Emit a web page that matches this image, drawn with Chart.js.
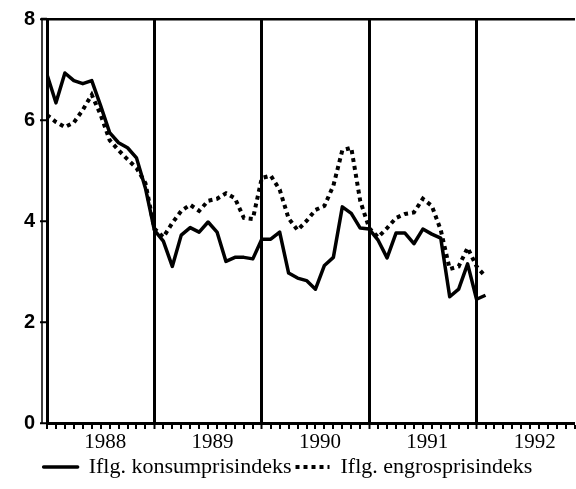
<!DOCTYPE html>
<html>
<head>
<meta charset="utf-8">
<script src="https://cdn.jsdelivr.net/npm/chart.js@4/dist/chart.umd.min.js"></script>
<style>
  html, body { margin: 0; padding: 0; background: #fff; }
  #wrap { width: 576px; height: 489px; }
</style>
</head>
<body>
<div id="wrap"><canvas id="grafico"></canvas></div>
<script>
// maanedlige tal fra jan. 1988 (index 0) til feb. 1992
const konsum = [
  6.9, 6.34, 6.93, 6.78, 6.72, 6.78, 6.28, 5.75, 5.55, 5.45, 5.25, 4.65,
  3.82, 3.6, 3.1, 3.72, 3.87, 3.78, 3.98, 3.78, 3.2, 3.28, 3.28, 3.25,
  3.64, 3.64, 3.78, 2.97, 2.87, 2.82, 2.65, 3.12, 3.28, 4.28, 4.15, 3.86,
  3.84, 3.62, 3.27, 3.76, 3.76, 3.55, 3.84, 3.74, 3.66, 2.5, 2.65, 3.15,
  2.45, 2.53
];
const engros = [
  6.1, 5.96, 5.86, 5.95, 6.2, 6.5, 6.1, 5.6, 5.4, 5.22, 5.05, 4.75,
  3.85, 3.68, 3.96, 4.2, 4.32, 4.2, 4.4, 4.44, 4.55, 4.45, 4.06, 4.04,
  4.85, 4.9, 4.62, 4.05, 3.82, 4.0, 4.22, 4.3, 4.7, 5.4, 5.45, 4.4,
  3.86, 3.68, 3.86, 4.06, 4.14, 4.17, 4.44, 4.3, 3.82, 3.05, 3.1, 3.47,
  3.1, 2.9
];
const aarstal = ['1988', '1989', '1990', '1991', '1992'];
const yTicks = [0, 2, 4, 6, 8];

const SORT = '#000';
const INGEN = 'rgba(0,0,0,0)';
const antalMdr = 59;

// tynd ekstra streg til venstre for y-aksen
const dobbeltAkse = {
  id: 'dobbeltAkse',
  afterDraw(chart) {
    const { ctx, chartArea: a } = chart;
    ctx.save();
    ctx.strokeStyle = SORT;
    ctx.lineWidth = 1.5;
    ctx.beginPath();
    ctx.moveTo(a.left - 5, a.top - 1);
    ctx.lineTo(a.left - 5, a.bottom);
    ctx.stroke();
    ctx.lineWidth = 2.5;
    ctx.beginPath();
    ctx.moveTo(a.left - 6, a.top);
    ctx.lineTo(a.left, a.top);
    ctx.stroke();
    ctx.restore();
  }
};

const tilPunkter = arr => arr.map((v, i) => ({ x: i, y: v }));

new Chart(document.getElementById('grafico'), {
  type: 'line',
  data: {
    datasets: [{
      label: 'Iflg. konsumprisindeks',
      data: tilPunkter(konsum),
      borderColor: SORT,
      backgroundColor: INGEN,
      borderWidth: 3.5,
      borderJoinStyle: 'round',
      pointRadius: 0,
      tension: 0
    }, {
      label: 'Iflg. engrosprisindeks',
      data: tilPunkter(engros),
      borderColor: SORT,
      backgroundColor: INGEN,
      borderWidth: 4,
      borderDash: [4, 4],
      pointRadius: 0,
      tension: 0
    }]
  },
  options: {
    responsive: true,
    maintainAspectRatio: false,
    animation: false,
    layout: { padding: { top: 19, left: 0, right: 0, bottom: 1 } },
    plugins: {
      tooltip: { enabled: false },
      legend: {
        position: 'bottom',
        labels: {
          // flad boks = kort streg; bredde 34 giver rene prikker
          boxWidth: 34,
          boxHeight: 0,
          padding: 4,
          color: SORT,
          font: { family: 'Liberation Serif', size: 22 }
        }
      }
    },
    scales: {
      x: {
        type: 'linear',
        min: 0,
        max: antalMdr,
        afterBuildTicks: s => {
          const t = [];
          for (let m = 0; m <= antalMdr; m++) t.push({ value: m });
          aarstal.forEach((a, i) => t.push({ value: 6.5 + 12 * i }));
          t.sort((p, q) => p.value - q.value);
          s.ticks = t;
        },
        afterFit: s => { s.height = 29; },
        ticks: {
          autoSkip: false,
          maxRotation: 0,
          minRotation: 0,
          padding: 1,
          color: SORT,
          font: { family: 'Liberation Serif', size: 21 },
          callback: v => Number.isInteger(v) ? '' : aarstal[(v - 6.5) / 12]
        },
        grid: {
          color: c => (c.tick && c.tick.value % 12 === 0 && c.tick.value > 0) ? SORT : INGEN,
          lineWidth: c => (c.tick && c.tick.value % 12 === 0 && c.tick.value > 0) ? 3 : 0,
          tickColor: c => (c.tick && Number.isInteger(c.tick.value)) ? SORT : INGEN,
          tickLength: 6,
          tickWidth: 2
        },
        border: { color: SORT, width: 3 }
      },
      y: {
        min: 0,
        max: 8,
        afterBuildTicks: s => { s.ticks = yTicks.map(v => ({ value: v })); },
        afterFit: s => { s.width = 47; },
        ticks: {
          padding: 5,
          color: SORT,
          font: { family: 'Liberation Sans', weight: 'bold', size: 20 }
        },
        grid: {
          color: c => (c.tick && c.tick.value === 8) ? SORT : INGEN,
          lineWidth: 2.5,
          tickColor: SORT,
          tickLength: 7,
          tickWidth: 2
        },
        border: { color: SORT, width: 3 }
      }
    }
  },
  plugins: [dobbeltAkse]
});
</script>
</body>
</html>
